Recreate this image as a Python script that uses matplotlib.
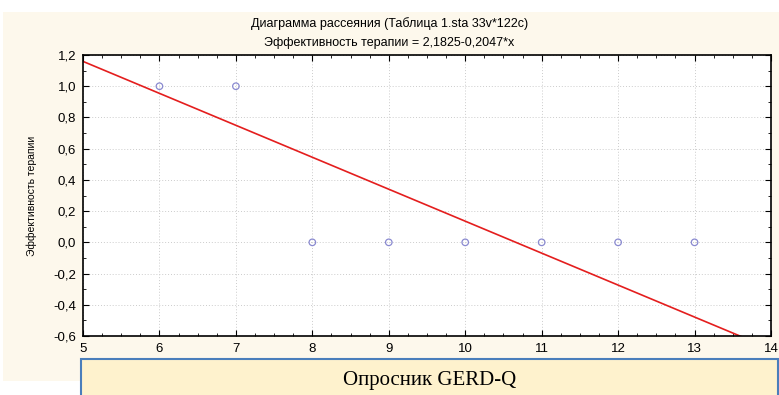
import numpy as np
import matplotlib.pyplot as plt
from matplotlib.patches import Rectangle
from matplotlib.ticker import MultipleLocator, FuncFormatter

plt.rcParams["font.family"] = ["Liberation Sans", "DejaVu Sans"]

# Data
gerd_q = [6, 7, 8, 9, 10, 11, 12, 13]
efficacy = [1, 1, 0, 0, 0, 0, 0, 0]
intercept = 2.1825
slope = -0.2047

fig = plt.figure(figsize=(7.79, 3.95), dpi=100)
fig.patch.set_facecolor("white")

# cream panel behind the chart
fig.patches.append(Rectangle((3 / 779, 1 - 381 / 395), 776 / 779, 369 / 395,
                             transform=fig.transFigure, facecolor="#fdf8ec",
                             edgecolor="none", zorder=-1))

ax = fig.add_axes([83 / 779, 1 - 336 / 395, 688 / 779, 281 / 395])
ax.set_zorder(1)
ax.set_facecolor("white")

ax.scatter(gerd_q, efficacy, s=22, facecolors="none", edgecolors="#8a8ad0",
           linewidths=0.9, zorder=3)

xs = np.array([5, 14])
ax.plot(xs, intercept + slope * xs, color="#e41e1e", lw=1.2, zorder=2)

ax.set_xlim(5, 14)
ax.set_ylim(-0.6, 1.2)
ax.xaxis.set_major_locator(MultipleLocator(1))
ax.xaxis.set_minor_locator(MultipleLocator(0.25))
ax.yaxis.set_major_locator(MultipleLocator(0.2))
ax.yaxis.set_minor_locator(MultipleLocator(0.1))
ax.yaxis.set_major_formatter(FuncFormatter(lambda v, p: f"{v:.1f}".replace(".", ",").replace("-0,0", "0,0")))

ax.tick_params(which="both", direction="in", top=True, right=True,
               labelsize=9.5, colors="black", pad=5)
ax.tick_params(which="major", length=4)
ax.tick_params(which="minor", length=2.5)
ax.grid(True, which="major", linestyle=(0, (1, 2)), color="#cccccc", lw=0.7)
for s in ax.spines.values():
    s.set_linewidth(1.2)

ax.set_ylabel("Эффективность терапии", fontsize=7.5, labelpad=12)

fig.text(0.5, 1 - 24 / 395, "Диаграмма рассеяния (Таблица 1.sta 33v*122c)",
         ha="center", va="center", fontsize=9)
fig.text(0.5, 1 - 43 / 395, "Эффективность терапии = 2,1825-0,2047*x",
         ha="center", va="center", fontsize=9)

# caption box
fig.patches.append(Rectangle((81 / 779, -0.02), 697 / 779, (395 - 359) / 395 + 0.02,
                             transform=fig.transFigure, facecolor="#fef2cd",
                             edgecolor="#4a7ebb", lw=1.5, zorder=5))
fig.text(430 / 779, 1 - 380 / 395, "Опросник GERD-Q", ha="center", va="center",
         fontsize=15, family="Liberation Serif", zorder=6)

plt.savefig("out.png", dpi=100, facecolor=fig.get_facecolor())
